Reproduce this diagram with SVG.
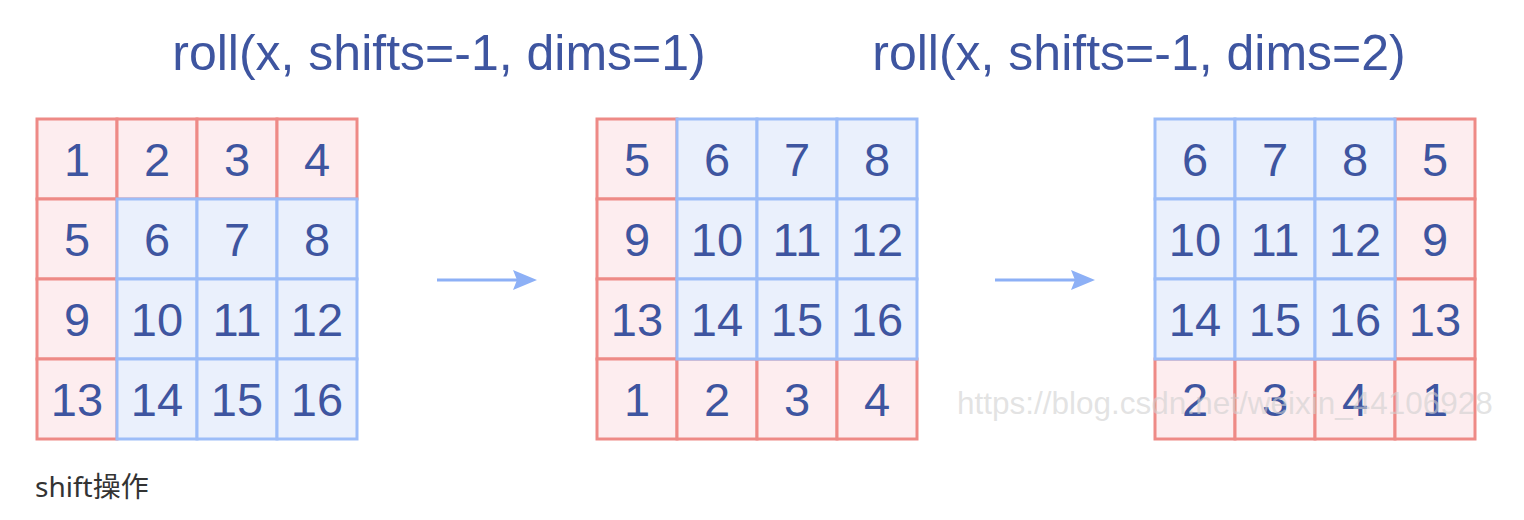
<svg xmlns="http://www.w3.org/2000/svg" width="1524" height="520" viewBox="0 0 1524 520">
<defs>
<style>
.r rect{fill:#FDEDEF;stroke:#EE8A86;stroke-width:3}
.b rect{fill:#EAF0FC;stroke:#9DBDF8;stroke-width:3}
.cell text{font-family:"Liberation Sans",Arial,sans-serif;font-size:47px;fill:#3E55A0;text-anchor:middle}
.title{font-family:"Liberation Sans",Arial,sans-serif;font-size:50px;fill:#3E55A0;text-anchor:middle}
.conn line{stroke:#8DB0F6;stroke-width:3}
</style>
<marker id="ah" viewBox="0 0 24 20" refX="4" refY="10" markerWidth="24" markerHeight="20" markerUnits="userSpaceOnUse" orient="auto">
<path d="M0,0 L24,10 L0,20 L4,10 z" fill="#8DB0F6"/>
</marker>
</defs>
<rect width="1524" height="520" fill="#fff"/>
<text class="title" x="439" y="70">roll(x, shifts=-1, dims=1)</text>
<text class="title" x="1139" y="70">roll(x, shifts=-1, dims=2)</text>

<!-- Grid 1 -->
<g id="g1">
<g id="g1c1" class="cell r"><rect x="37" y="119" width="80" height="80"/><text x="77" y="176">1</text></g>
<g id="g1c2" class="cell r"><rect x="117" y="119" width="80" height="80"/><text x="157" y="176">2</text></g>
<g id="g1c3" class="cell r"><rect x="197" y="119" width="80" height="80"/><text x="237" y="176">3</text></g>
<g id="g1c4" class="cell r"><rect x="277" y="119" width="80" height="80"/><text x="317" y="176">4</text></g>
<g id="g1c5" class="cell r"><rect x="37" y="199" width="80" height="80"/><text x="77" y="256">5</text></g>
<g id="g1c9" class="cell r"><rect x="37" y="279" width="80" height="80"/><text x="77" y="336">9</text></g>
<g id="g1c13" class="cell r"><rect x="37" y="359" width="80" height="80"/><text x="77" y="416">13</text></g>
<g id="g1c6" class="cell b"><rect x="117" y="199" width="80" height="80"/><text x="157" y="256">6</text></g>
<g id="g1c7" class="cell b"><rect x="197" y="199" width="80" height="80"/><text x="237" y="256">7</text></g>
<g id="g1c8" class="cell b"><rect x="277" y="199" width="80" height="80"/><text x="317" y="256">8</text></g>
<g id="g1c10" class="cell b"><rect x="117" y="279" width="80" height="80"/><text x="157" y="336">10</text></g>
<g id="g1c11" class="cell b"><rect x="197" y="279" width="80" height="80"/><text x="237" y="336">11</text></g>
<g id="g1c12" class="cell b"><rect x="277" y="279" width="80" height="80"/><text x="317" y="336">12</text></g>
<g id="g1c14" class="cell b"><rect x="117" y="359" width="80" height="80"/><text x="157" y="416">14</text></g>
<g id="g1c15" class="cell b"><rect x="197" y="359" width="80" height="80"/><text x="237" y="416">15</text></g>
<g id="g1c16" class="cell b"><rect x="277" y="359" width="80" height="80"/><text x="317" y="416">16</text></g>
</g>

<!-- Grid 2 -->
<g id="g2">
<g id="g2c5" class="cell r"><rect x="597" y="119" width="80" height="80"/><text x="637" y="176">5</text></g>
<g id="g2c9" class="cell r"><rect x="597" y="199" width="80" height="80"/><text x="637" y="256">9</text></g>
<g id="g2c13" class="cell r"><rect x="597" y="279" width="80" height="80"/><text x="637" y="336">13</text></g>
<g id="g2c1" class="cell r"><rect x="597" y="359" width="80" height="80"/><text x="637" y="416">1</text></g>
<g id="g2c2" class="cell r"><rect x="677" y="359" width="80" height="80"/><text x="717" y="416">2</text></g>
<g id="g2c3" class="cell r"><rect x="757" y="359" width="80" height="80"/><text x="797" y="416">3</text></g>
<g id="g2c4" class="cell r"><rect x="837" y="359" width="80" height="80"/><text x="877" y="416">4</text></g>
<g id="g2c6" class="cell b"><rect x="677" y="119" width="80" height="80"/><text x="717" y="176">6</text></g>
<g id="g2c7" class="cell b"><rect x="757" y="119" width="80" height="80"/><text x="797" y="176">7</text></g>
<g id="g2c8" class="cell b"><rect x="837" y="119" width="80" height="80"/><text x="877" y="176">8</text></g>
<g id="g2c10" class="cell b"><rect x="677" y="199" width="80" height="80"/><text x="717" y="256">10</text></g>
<g id="g2c11" class="cell b"><rect x="757" y="199" width="80" height="80"/><text x="797" y="256">11</text></g>
<g id="g2c12" class="cell b"><rect x="837" y="199" width="80" height="80"/><text x="877" y="256">12</text></g>
<g id="g2c14" class="cell b"><rect x="677" y="279" width="80" height="80"/><text x="717" y="336">14</text></g>
<g id="g2c15" class="cell b"><rect x="757" y="279" width="80" height="80"/><text x="797" y="336">15</text></g>
<g id="g2c16" class="cell b"><rect x="837" y="279" width="80" height="80"/><text x="877" y="336">16</text></g>
</g>

<!-- Grid 3 -->
<g id="g3">
<g id="g3c5" class="cell r"><rect x="1395" y="119" width="80" height="80"/><text x="1435" y="176">5</text></g>
<g id="g3c9" class="cell r"><rect x="1395" y="199" width="80" height="80"/><text x="1435" y="256">9</text></g>
<g id="g3c13" class="cell r"><rect x="1395" y="279" width="80" height="80"/><text x="1435" y="336">13</text></g>
<g id="g3c2" class="cell r"><rect x="1155" y="359" width="80" height="80"/><text x="1195" y="416">2</text></g>
<g id="g3c3" class="cell r"><rect x="1235" y="359" width="80" height="80"/><text x="1275" y="416">3</text></g>
<g id="g3c4" class="cell r"><rect x="1315" y="359" width="80" height="80"/><text x="1355" y="416">4</text></g>
<g id="g3c1" class="cell r"><rect x="1395" y="359" width="80" height="80"/><text x="1435" y="416">1</text></g>
<g id="g3c6" class="cell b"><rect x="1155" y="119" width="80" height="80"/><text x="1195" y="176">6</text></g>
<g id="g3c7" class="cell b"><rect x="1235" y="119" width="80" height="80"/><text x="1275" y="176">7</text></g>
<g id="g3c8" class="cell b"><rect x="1315" y="119" width="80" height="80"/><text x="1355" y="176">8</text></g>
<g id="g3c10" class="cell b"><rect x="1155" y="199" width="80" height="80"/><text x="1195" y="256">10</text></g>
<g id="g3c11" class="cell b"><rect x="1235" y="199" width="80" height="80"/><text x="1275" y="256">11</text></g>
<g id="g3c12" class="cell b"><rect x="1315" y="199" width="80" height="80"/><text x="1355" y="256">12</text></g>
<g id="g3c14" class="cell b"><rect x="1155" y="279" width="80" height="80"/><text x="1195" y="336">14</text></g>
<g id="g3c15" class="cell b"><rect x="1235" y="279" width="80" height="80"/><text x="1275" y="336">15</text></g>
<g id="g3c16" class="cell b"><rect x="1315" y="279" width="80" height="80"/><text x="1355" y="336">16</text></g>
</g>

<g id="connectors" class="conn">
<line x1="437" y1="280" x2="517" y2="280" marker-end="url(#ah)"/>
<line x1="995" y1="280" x2="1075" y2="280" marker-end="url(#ah)"/>
</g>

<text x="957" y="414" font-family="Liberation Sans,Arial,sans-serif" font-size="31.5" fill="#d0d0d0" fill-opacity="0.6">https://blog.csdn.net/weixin_44106928</text>
<text x="35" y="497" font-family="Noto Sans,Noto Sans CJK SC,sans-serif" font-size="28" fill="#333">shift操作</text>
</svg>
